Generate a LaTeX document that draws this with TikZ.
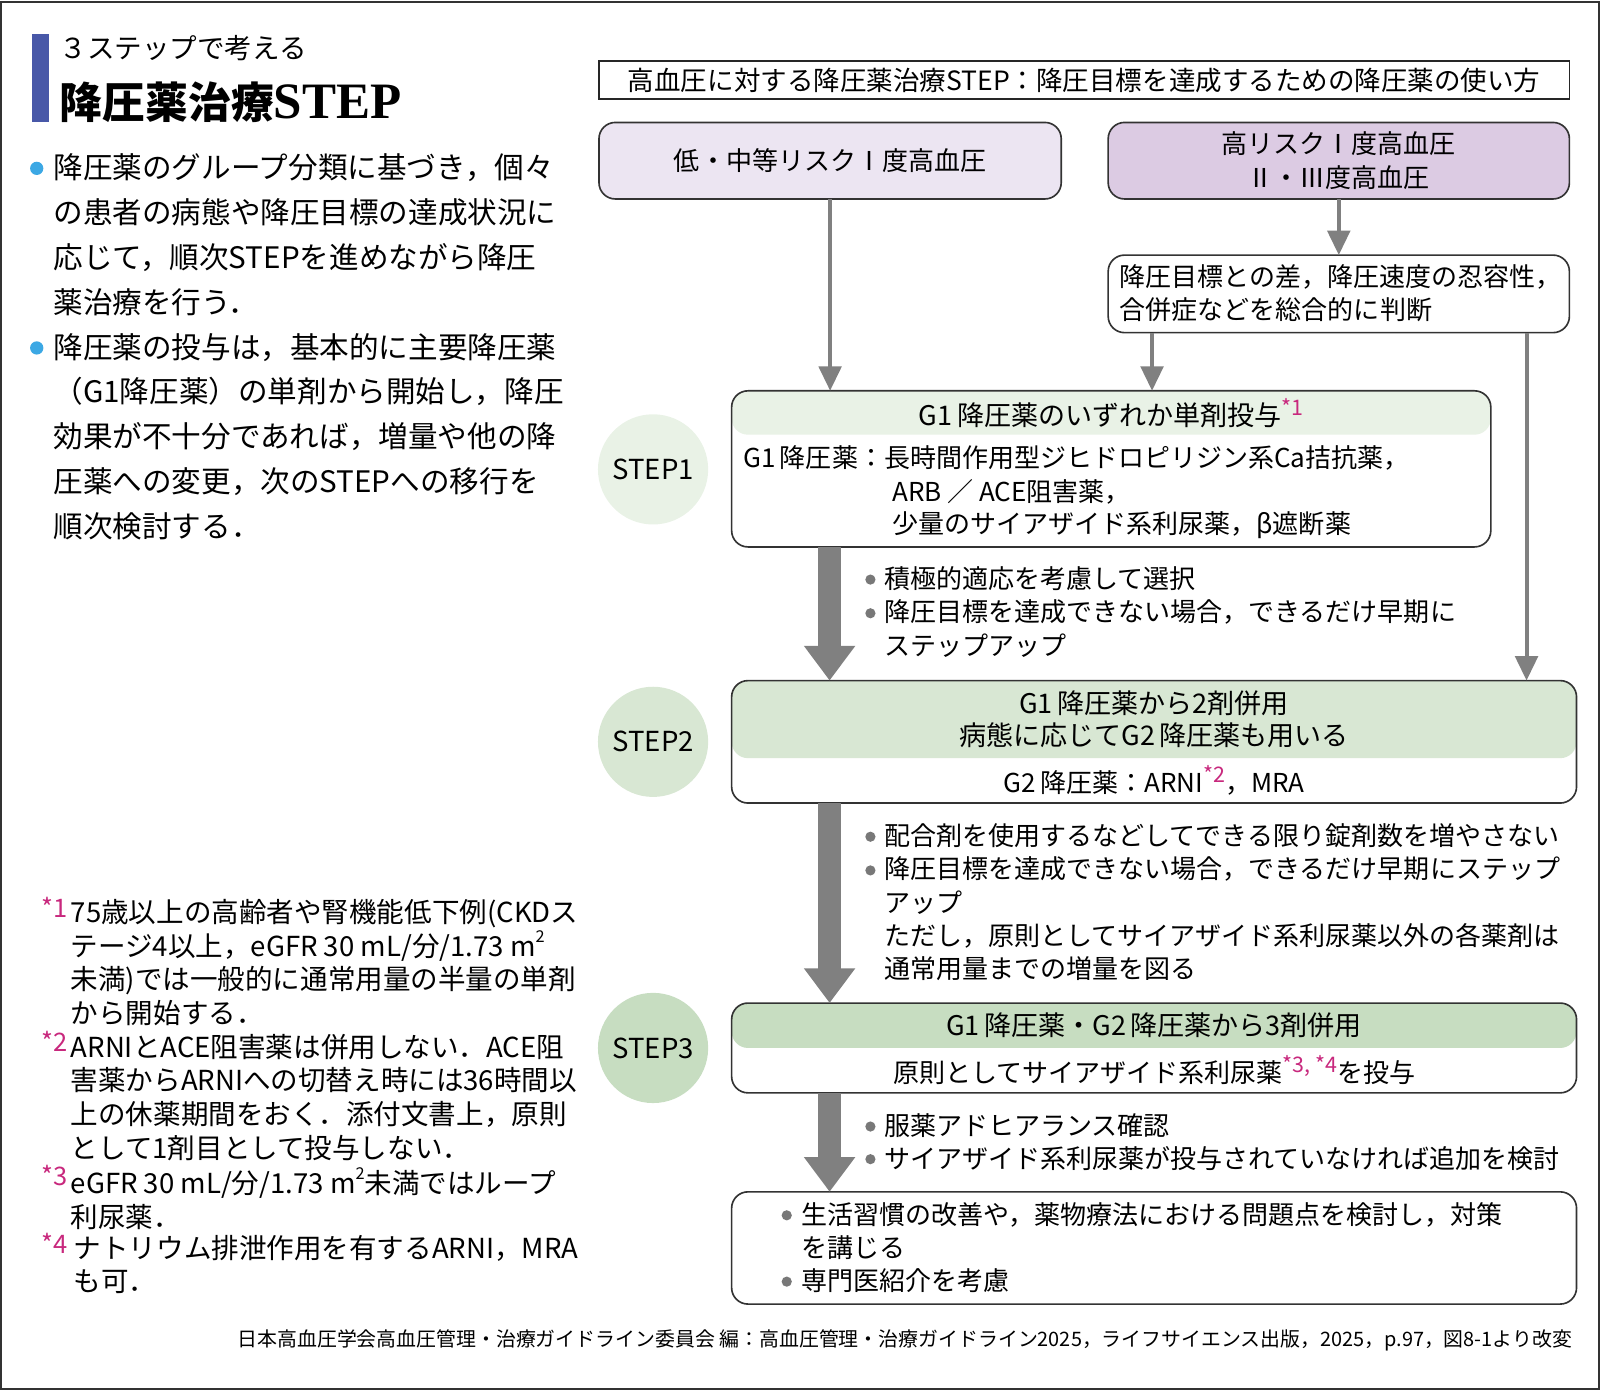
\documentclass[tikz,border=0pt]{standalone}
\usepackage{fontspec}
\setmainfont{Noto Sans CJK JP}
\newfontfamily\serifb{Liberation Serif}
\usetikzlibrary{arrows.meta,calc}
\definecolor{lavL}{RGB}{236,229,242}
\definecolor{lavD}{RGB}{220,203,227}
\definecolor{gA}{RGB}{233,242,230}
\definecolor{gB}{RGB}{216,231,211}
\definecolor{gC}{RGB}{199,221,193}
\definecolor{arrgray}{RGB}{128,128,128}
\definecolor{mag}{RGB}{200,40,125}
\definecolor{barblue}{RGB}{72,88,168}
\definecolor{dotblue}{RGB}{60,168,228}
\definecolor{dotgray}{RGB}{120,120,120}
\newcommand\fsz[2]{\fontsize{#1}{#2}\selectfont}
\newcommand\flowf{\fontsize{12.75pt}{16.25pt}\selectfont}
\newcommand\fnm[1]{{\color{mag}\raisebox{0.38em}{\fontsize{10.5pt}{10.5pt}\selectfont #1}}}
\newcommand\sqm{\raisebox{0.5em}{\fontsize{8pt}{8pt}\selectfont 2}}
\begin{document}
\begin{tikzpicture}[x=0.5pt,y=-0.5pt,
  box/.style={draw=black!80, line width=0.8pt, rounded corners=8pt, inner sep=0pt, outer sep=0pt},
  thinarr/.style={draw=arrgray, line width=2pt, -{Triangle[width=11pt,length=12pt]}},
  thickarr/.style={draw=arrgray, line width=11pt, -{Triangle[width=24pt,length=17pt]}},
  stepc/.style={circle, inner sep=0pt, minimum size=54pt, font=\fsz{13.5pt}{15pt}},
  ltxt/.style={anchor=north west, align=left, inner sep=0pt},
  flowml/.style={ltxt, font=\flowf},
  fnt/.style={ltxt, font=\fsz{13.5pt}{16.5pt}},
  fnmark/.style={anchor=west, inner sep=0pt, text=mag, font=\fsz{12.5pt}{12.5pt}},
  bdot/.style={fill=dotblue},
  gdot/.style={fill=dotgray}]
\useasboundingbox (0,0) rectangle (1568,1363);
\draw[line width=1pt, draw=black!80] (1,1.5) rectangle (1567,1361.5);

% ---- left column ----
\fill[barblue] (31,33) rectangle (48,120);
\node[anchor=west, inner sep=0pt] (t1) at (58,47) {\fsz{13.5pt}{16pt}３ステップで考える};
\node[anchor=west, inner sep=0pt] (t2) at (58,100) {\fsz{21pt}{24pt}\bfseries 降圧薬治療{\serifb\bfseries\fsz{25pt}{26pt}STEP}};

\fill[bdot] (36,165) circle (6.5);
\fill[bdot] (36,341) circle (6.5);
\node[ltxt, font=\fsz{14.5pt}{22pt}] (p1) at (52,150) {降圧薬のグループ分類に基づき，個々\\の患者の病態や降圧目標の達成状況に\\応じて，順次STEPを進めながら降圧\\薬治療を行う．};
\node[ltxt, font=\fsz{14.5pt}{22pt}] (p2) at (52,326) {降圧薬の投与は，基本的に主要降圧薬\\（G1降圧薬）の単剤から開始し，降圧\\効果が不十分であれば，増量や他の降\\圧薬への変更，次のSTEPへの移行を\\順次検討する．};

% footnotes
\node[fnmark] (m1) at (40,889) {*1};
\node[fnt] (fn1) at (69,881) {75歳以上の高齢者や腎機能低下例(CKDス\\テージ4以上，eGFR 30 mL/分/1.73 m\sqm\\未満)では一般的に通常用量の半量の単剤\\から開始する．};
\node[fnmark] (m2) at (40,1021) {*2};
\node[fnt] (fn2) at (69,1013) {ARNIとACE阻害薬は併用しない．ACE阻\\害薬からARNIへの切替え時には36時間以\\上の休薬期間をおく．添付文書上，原則\\として1剤目として投与しない．};
\node[fnmark] (m3) at (40,1152) {*3};
\node[fnt] (fn3) at (69,1144) {eGFR 30 mL/分/1.73 m\sqm 未満ではループ\\利尿薬．};
\node[fnmark] (m4) at (40,1218) {*4};
\node[fnt] (fn4) at (72,1210) {ナトリウム排泄作用を有するARNI，MRA\\も可．};

% ---- flowchart ----
\node[draw=black!85, line width=0.75pt, minimum width=475.5pt, minimum height=18.5pt, inner sep=0pt, fill=white] (ttl) at (1062.5,78.5) {\fsz{13pt}{15pt}高血圧に対する降圧薬治療STEP：降圧目標を達成するための降圧薬の使い方};

\node[box, fill=lavL, minimum width=226.5pt, minimum height=37.5pt] (low) at (813.5,157.5) {\flowf 低・中等リスクⅠ度高血圧};
\node[box, fill=lavD, minimum width=226pt, minimum height=37.5pt, align=center, font=\fsz{12.75pt}{16.5pt}] (high) at (1312,157.5) {高リスクⅠ度高血圧\\Ⅱ・Ⅲ度高血圧};
\node[box, fill=white, minimum width=226pt, minimum height=38pt] (judge) at (1312,288) {};
\node[ltxt, font=\fsz{12.75pt}{16pt}] (judgetxt) at (1097,259) {降圧目標との差，降圧速度の忍容性，\\合併症などを総合的に判断};

% STEP1
\node[stepc, fill=gA] (c1) at (640,460) {STEP1};
\node[box, fill=white, minimum width=372pt, minimum height=76.5pt,
  path picture={\fill[gA] (path picture bounding box.north west) rectangle ([yshift=-21.5pt]path picture bounding box.north east);}] (s1) at (1089,459.5) {};
\node (s1h) at (1089,405) {\fsz{13.25pt}{16pt}G1\,降圧薬のいずれか単剤投与\fnm{*1}};
\node[anchor=west, inner sep=0pt] (s1a) at (728,449) {\flowf G1\,降圧薬：長時間作用型ジヒドロピリジン系Ca拮抗薬，};
\node[anchor=west, inner sep=0pt] (s1b) at (874,482) {\flowf ARB ／ ACE阻害薬，};
\node[anchor=west, inner sep=0pt] (s1c) at (874,515) {\flowf 少量のサイアザイド系利尿薬，β遮断薬};

% STEP2
\node[stepc, fill=gB] (c2) at (640,727) {STEP2};
\node[box, fill=white, minimum width=414pt, minimum height=60pt,
  path picture={\fill[gB] (path picture bounding box.north west) rectangle ([yshift=-38pt]path picture bounding box.north east);}] (s2) at (1131,727) {};
\node[align=center, inner sep=0pt, font=\fsz{13.25pt}{16pt}] (s2h) at (1131,705) {G1\,降圧薬から2剤併用\\病態に応じてG2\,降圧薬も用いる};
\node (s2b) at (1131,765) {\flowf G2\,降圧薬：ARNI\fnm{*2}，MRA};

% STEP3
\node[stepc, fill=gC] (c3) at (640,1027) {STEP3};
\node[box, fill=white, minimum width=414pt, minimum height=44pt,
  path picture={\fill[gC] (path picture bounding box.north west) rectangle ([yshift=-22pt]path picture bounding box.north east);}] (s3) at (1131,1027) {};
\node (s3h) at (1131,1005) {\fsz{13.25pt}{16pt}G1\,降圧薬・G2\,降圧薬から3剤併用};
\node (s3b) at (1131,1049) {\flowf 原則としてサイアザイド系利尿薬\fnm{*3, *4}を投与};

% final box
\node[box, fill=white, minimum width=414pt, minimum height=55pt] (finbox) at (1131,1223) {};
\fill[gdot] (771,1191) circle (5);
\fill[gdot] (771,1256) circle (5);
\node[flowml] (fintxt) at (785,1178) {生活習慣の改善や，薬物療法における問題点を検討し，対策\\を講じる\\専門医紹介を考慮};

% bullets between steps
\fill[gdot] (853,568) circle (5);
\fill[gdot] (853,601) circle (5);
\node[flowml] (b1) at (866,555) {積極的適応を考慮して選択\\降圧目標を達成できない場合，できるだけ早期に\\ステップアップ};
\fill[gdot] (853,820) circle (5);
\fill[gdot] (853,853) circle (5);
\node[flowml] (b2) at (866,807) {配合剤を使用するなどしてできる限り錠剤数を増やさない\\降圧目標を達成できない場合，できるだけ早期にステップ\\アップ\\ただし，原則としてサイアザイド系利尿薬以外の各薬剤は\\通常用量までの増量を図る};
\fill[gdot] (853,1104) circle (5);
\fill[gdot] (853,1136) circle (5);
\node[flowml] (b3) at (866,1091) {服薬アドヒアランス確認\\サイアザイド系利尿薬が投与されていなければ追加を検討};

% connectors
\draw[thinarr] (low.south) -- (low.south |- s1.north);
\draw[thinarr] (high.south) -- (judge.north);
\draw[thinarr] ([xshift=21.5pt]judge.south west) -- ([xshift=21.5pt]judge.south west |- s1.north);
\draw[thinarr] ([xshift=-21pt]judge.south east) -- ([xshift=-21pt]judge.south east |- s2.north);
\coordinate (ax) at (813,0);
\draw[thickarr] (s1.south -| ax) -- (s2.north -| ax);
\draw[thickarr] (s2.south -| ax) -- (s3.north -| ax);
\draw[thickarr] (s3.south -| ax) -- (finbox.north -| ax);

% source
\node[anchor=east, inner sep=0pt] (src) at (1541,1314) {\fsz{9.75pt}{11pt}日本高血圧学会高血圧管理・治療ガイドライン委員会 編：高血圧管理・治療ガイドライン2025，ライフサイエンス出版，2025，p.97，図8-1より改変};
\end{tikzpicture}
\end{document}
